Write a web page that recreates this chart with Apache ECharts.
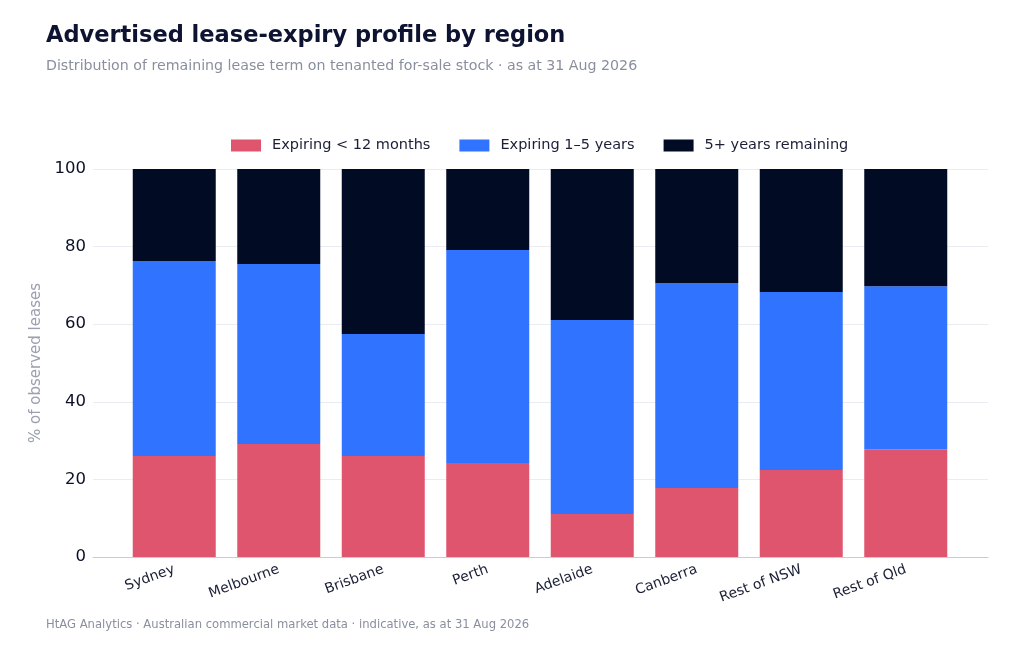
<!DOCTYPE html>
<html>
<head>
<meta charset="utf-8">
<script src="https://cdn.jsdelivr.net/npm/echarts@6/dist/echarts.min.js"></script>
<style>
  html, body { margin: 0; padding: 0; background: #fff; }
  #main { width: 1024px; height: 648px; }
</style>
</head>
<body>
<div id="main"></div>
<script>
const regions = ['Sydney', 'Melbourne', 'Brisbane', 'Perth', 'Adelaide', 'Canberra', 'Rest of NSW', 'Rest of Qld'];
const under12m = [26.0, 29.1, 26.0, 24.2, 11.1, 17.8, 22.4, 27.8];
const oneToFive = [50.3, 46.4, 31.5, 54.9, 50.0, 52.8, 45.9, 42.0];
const fivePlus = [23.7, 24.5, 42.5, 20.9, 38.9, 29.4, 31.7, 30.2];
const yTicks = [0, 20, 40, 60, 80, 100];

const font = 'DejaVu Sans';

let chart = echarts.init(document.getElementById('main'));

function bar(name, values, color) {
    return {
        name: name,
        type: 'bar',
        stack: 'lease',
        xAxisIndex: 1,
        yAxisIndex: 1,
        barWidth: 83,
        itemStyle: { color: color },
        data: values
    };
}

let option = {
    backgroundColor: '#ffffff',
    textStyle: { fontFamily: font },
    title: [
        {
            text: 'Advertised lease-expiry profile by region',
            left: 41, top: 20,
            textStyle: { fontSize: 22.5, fontWeight: 'bold', color: '#0d1330', fontFamily: font }
        },
        {
            text: 'Distribution of remaining lease term on tenanted for-sale stock · as at 31 Aug 2026',
            left: 41, top: 54,
            textStyle: { fontSize: 14.2, fontWeight: 'normal', color: '#8a8f9e', fontFamily: font }
        },
        {
            text: 'HtAG Analytics · Australian commercial market data · indicative, as at 31 Aug 2026',
            left: 41, top: 614,
            textStyle: { fontSize: 11.6, fontWeight: 'normal', color: '#8a8f9e', fontFamily: font }
        }
    ],
    legend: {
        top: 133,
        left: 226,
        itemWidth: 30,
        itemHeight: 12,
        itemGap: 29,
        icon: 'rect',
        textStyle: { fontSize: 14.5, color: '#1a1f36', fontFamily: font, padding: [0, 0, 0, 6] },
        data: ['Expiring < 12 months', 'Expiring 1–5 years', '5+ years remaining']
    },
    grid: [
        { left: 93, right: 36, top: 169, bottom: 91 },
        { left: 122, right: 66, top: 169, bottom: 91 }
    ],
    xAxis: [
        {
            type: 'category',
            gridIndex: 0,
            data: [],
            axisLine: { show: true, lineStyle: { color: '#c8cbe0', width: 1 } },
            axisTick: { show: false },
            axisLabel: { show: false }
        },
        {
            type: 'category',
            gridIndex: 1,
            data: regions,
            axisLine: { show: false },
            axisTick: { show: false },
            axisLabel: { rotate: 20, fontSize: 14, color: '#1a1f36', margin: 12, fontFamily: font }
        }
    ],
    yAxis: [
        {
            type: 'value',
            gridIndex: 0,
            min: yTicks[0],
            max: yTicks[yTicks.length - 1],
            interval: 20,
            name: '% of observed leases',
            nameLocation: 'middle',
            nameGap: 44,
            nameTextStyle: { fontSize: 15, color: '#9aa0b0', fontFamily: font },
            axisLine: { show: false },
            axisTick: { show: false },
            axisLabel: { fontSize: 16.5, color: '#0b1026', margin: 7, fontFamily: font },
            splitLine: { lineStyle: { color: '#ebecf1', width: 1 } }
        },
        {
            type: 'value',
            gridIndex: 1,
            min: 0,
            max: 100,
            show: false,
            splitLine: { show: false }
        }
    ],
    series: [
        bar('Expiring < 12 months', under12m, '#e0556e'),
        bar('Expiring 1–5 years', oneToFive, '#2f73ff'),
        bar('5+ years remaining', fivePlus, '#020b24')
    ]
};

chart.setOption(option);
</script>
</body>
</html>
